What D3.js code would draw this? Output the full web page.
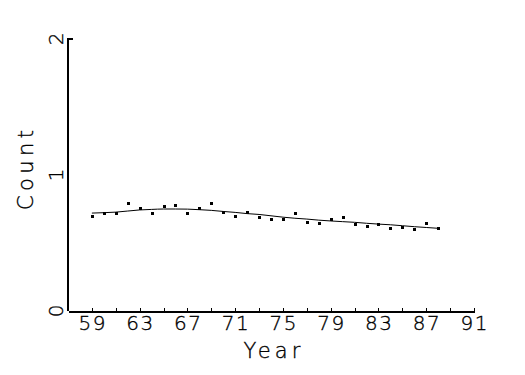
<!DOCTYPE html>
<html>
<head>
<meta charset="utf-8">
<script src="https://cdn.jsdelivr.net/npm/d3@7"></script>
<style>
  body { margin: 0; background: #fff; }
  text { font-family: "DejaVu Sans", sans-serif; font-weight: 200; fill: #000; stroke: #000; stroke-width: 0.35px; }
</style>
</head>
<body>
<div id="chart"></div>
<script>
var width = 525;
var height = 375;

// observed counts by year
var years = [59, 60, 61, 62, 63, 64, 65, 66, 67, 68, 69, 70, 71, 72, 73,
             74, 75, 76, 77, 78, 79, 80, 81, 82, 83, 84, 85, 86, 87, 88];
var counts = [0.70, 0.718, 0.718, 0.792, 0.76, 0.718, 0.77, 0.777, 0.718, 0.757,
              0.792, 0.726, 0.696, 0.728, 0.689, 0.679, 0.679, 0.72, 0.657, 0.647,
              0.679, 0.689, 0.637, 0.627, 0.637, 0.608, 0.62, 0.605, 0.647, 0.608];
// smoothed fit
var fit = [0.72, 0.723, 0.727, 0.735, 0.743, 0.747, 0.75, 0.75, 0.749, 0.745,
           0.74, 0.732, 0.725, 0.716, 0.71, 0.70, 0.69, 0.682, 0.676, 0.668,
           0.662, 0.657, 0.652, 0.645, 0.639, 0.634, 0.627, 0.62, 0.614, 0.608];

var xTicks = d3.range(59, 92, 2);
var xLabels = [59, 63, 67, 71, 75, 79, 83, 87, 91];
var yLabels = [0, 1, 2];

var svg = d3.select("#chart").append("svg")
  .attr("width", width)
  .attr("height", height);

var xScale = d3.scaleLinear().domain([57, 91]).range([68, 474]);
var yScale = d3.scaleLinear().domain([0, 2]).range([311, 39]);

// axes
var xAxis = d3.axisTop(xScale).tickValues(xTicks).tickSize(3).tickSizeOuter(0).tickFormat("");
svg.append("g")
  .attr("transform", "translate(0,311)")
  .call(xAxis)
  .call(function (g) {
    g.select(".domain").attr("stroke-width", 2).attr("shape-rendering", "crispEdges");
    g.selectAll(".tick line").attr("shape-rendering", "crispEdges");
  });

svg.append("path")
  .attr("d", "M" + (xScale(57) + 4.5) + "," + yScale(2) + "H" + xScale(57) + "V" + yScale(0))
  .attr("fill", "none")
  .attr("stroke", "#000")
  .attr("stroke-width", 2)
  .attr("shape-rendering", "crispEdges");

// x tick labels
svg.selectAll(".xlab").data(xLabels).enter().append("text")
  .attr("class", "xlab")
  .attr("x", function (d) { return xScale(d); })
  .attr("y", 330)
  .attr("text-anchor", "middle")
  .attr("font-size", "20px")
  .attr("textLength", 27)
  .attr("lengthAdjust", "spacing")
  .text(function (d) { return d; });

// y tick labels (rotated)
svg.selectAll(".ylab").data(yLabels).enter().append("text")
  .attr("class", "ylab")
  .attr("transform", function (d) { return "translate(63," + yScale(d) + ") rotate(-90)"; })
  .attr("text-anchor", "middle")
  .attr("font-size", "20px")
  .text(function (d) { return d; });

// axis titles
svg.append("text")
  .attr("x", 272)
  .attr("y", 358)
  .attr("text-anchor", "middle")
  .attr("font-size", "21px")
  .attr("textLength", 57)
  .attr("lengthAdjust", "spacing")
  .text("Year");

svg.append("text")
  .attr("transform", "translate(33,170) rotate(-90)")
  .attr("text-anchor", "middle")
  .attr("font-size", "21px")
  .attr("textLength", 80)
  .attr("lengthAdjust", "spacing")
  .text("Count");

// fitted line
var line = d3.line()
  .x(function (d, i) { return xScale(years[i]); })
  .y(function (d) { return yScale(d); })
  .curve(d3.curveMonotoneX);

svg.append("path")
  .datum(fit)
  .attr("d", line)
  .attr("fill", "none")
  .attr("stroke", "#000")
  .attr("stroke-width", 1);

// points
svg.selectAll(".pt").data(counts).enter().append("rect")
  .attr("class", "pt")
  .attr("x", function (d, i) { return Math.round(xScale(years[i])) - 1; })
  .attr("y", function (d) { return Math.round(yScale(d)) - 1; })
  .attr("width", 3)
  .attr("height", 3)
  .attr("fill", "#000");
</script>
</body>
</html>
